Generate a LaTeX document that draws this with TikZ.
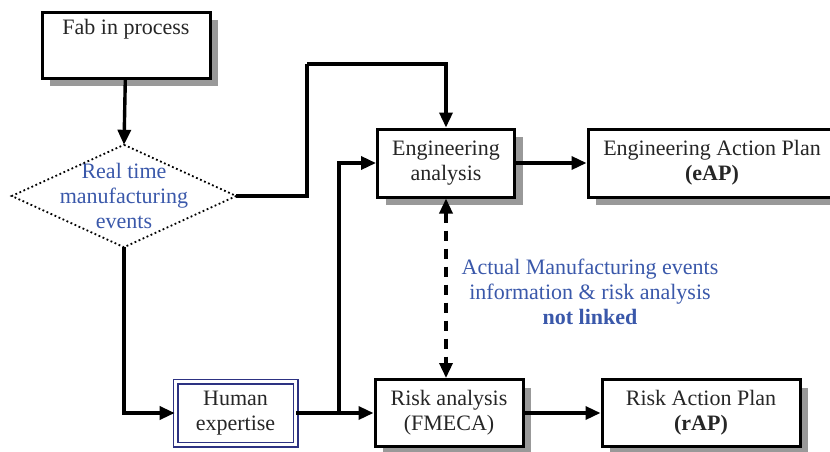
\documentclass[tikz,border=0pt]{standalone}
\usepackage{fontspec}
\setmainfont{Liberation Serif}
\usetikzlibrary{arrows.meta,shadows}
\definecolor{txtblue}{RGB}{58,88,170}
\definecolor{boxnavy}{RGB}{45,50,130}
\begin{document}
\begin{tikzpicture}[x=1pt, y=-1pt,
  font=\fontsize{22}{25}\selectfont,
  box/.style={draw, line width=3pt, fill=white, text=black!85, align=center,
    drop shadow={shadow xshift=8pt, shadow yshift=-8pt, fill=black!40, opacity=1}},
  flow/.style={line width=3.4pt, -{Triangle[length=15pt, width=13pt]}},
  link/.style={line width=3.4pt}]
\useasboundingbox (0,0) rectangle (830,451);

\node[box, minimum width=168pt, minimum height=66pt, text height=15pt, text depth=37pt] (fab) at (126,45) {Fab in process};

\node[inner sep=0pt, minimum width=224pt, minimum height=102pt, text=txtblue, align=center] (events) at (124,196) {Real time\\manufacturing\\events};
\draw[line width=1.8pt, dash pattern=on 1.8pt off 2.6pt] (events.north) -- (events.east) -- (events.south) -- (events.west) -- cycle;

\node[box, minimum width=137pt, minimum height=68pt] (eng) at (446,163) {Engineering\\analysis};
\node[box, minimum width=248pt, minimum height=68pt] (eap) at (712,163) {Engineering Action Plan\\\textbf{(eAP)}};

\node[draw=boxnavy, line width=1.6pt, double, double distance=2.8pt, text=black!85, align=center,
  minimum width=120pt, minimum height=63pt] (human) at (235.5,413) {Human\\expertise};
\node[box, minimum width=148pt, minimum height=67pt] (risk) at (449,413) {Risk analysis\\(FMECA)};
\node[box, minimum width=198pt, minimum height=67pt] (rap) at (701,413) {Risk Action Plan\\\textbf{(rAP)}};

\node[text=txtblue, align=center] (nolink) at (590,292) {Actual Manufacturing events\\information \& risk analysis\\\textbf{not linked}};

\coordinate (topbend) at (307,64);
\coordinate (split) at (339,413);

\draw[flow] (fab) -- (events.north);
\draw[link] (events.east) -| (topbend);
\draw[flow] (topbend) -| (eng.north);
\draw[flow] (events.south) |- (human.west);
\draw[flow] (human.east) -- (risk.west);
\draw[flow] (split) |- (eng.west);
\draw[flow] (eng) -- (eap);
\draw[flow] (risk) -- (rap);
\draw[line width=3.4pt, dash pattern=on 10pt off 8pt, {Triangle[length=15pt, width=13pt]}-{Triangle[length=15pt, width=13pt]}]
  (eng.south) -- (eng.south |- risk.north);
\end{tikzpicture}
\end{document}
